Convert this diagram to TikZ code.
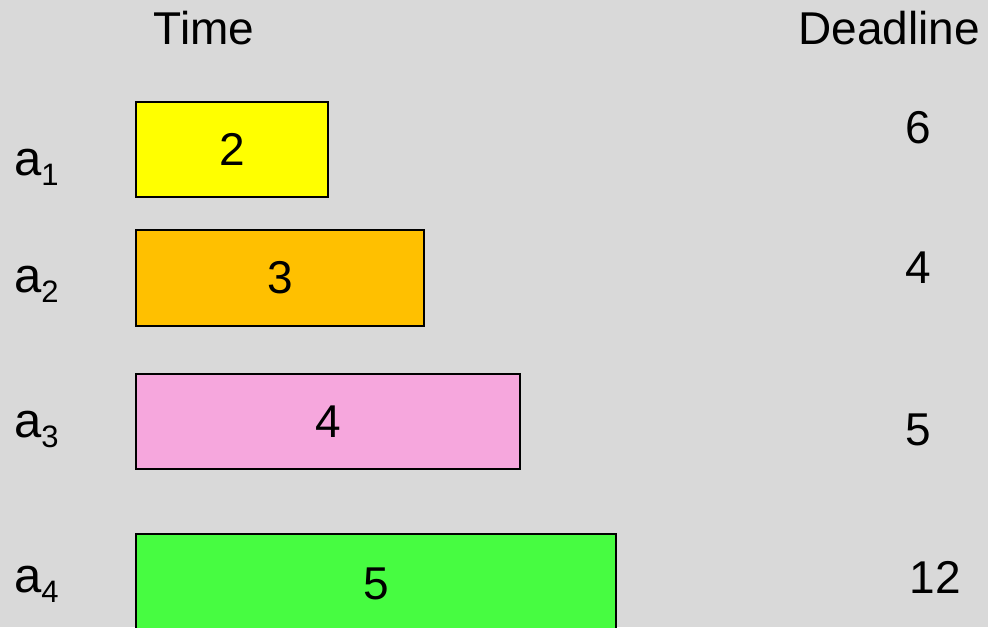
\documentclass[tikz,border=0pt]{standalone}
\usepackage{fontspec}
\setmainfont{Liberation Sans}
\definecolor{bggray}{HTML}{D9D9D9}
\definecolor{yel}{HTML}{FFFF00}
\definecolor{org}{HTML}{FFC000}
\definecolor{pnk}{HTML}{F6A7DD}
\definecolor{grn}{HTML}{47FC41}
\newcommand{\lbl}[1]{a\raisebox{-10pt}{\fontsize{31}{31}\selectfont #1}}
\tikzset{
  txt/.style={inner sep=0pt, font=\fontsize{46}{46}\selectfont},
  albl/.style={inner sep=0pt, anchor=base west, font=\fontsize{49}{49}\selectfont},
  bar/.style={draw=black, line width=1.6pt, inner sep=0pt, anchor=north west, font=\fontsize{46}{46}\selectfont}
}
\begin{document}
\begin{tikzpicture}[x=1pt,y=-1pt]
\fill[bggray] (0,0) rectangle (988,627);
\useasboundingbox (0,0) rectangle (988,627);
\node[txt, anchor=base] (time) at (204,44) {Time};
\node[txt, anchor=base] (deadline) at (889,44) {Deadline};
\begin{scope}
\clip (0,0) rectangle (988,627);
\node[bar, fill=yel, minimum width=192pt, minimum height=95pt] (b1) at (135,101) {2};
\node[bar, fill=org, minimum width=288pt, minimum height=96pt] (b2) at (135,229) {3};
\node[bar, fill=pnk, minimum width=384pt, minimum height=95pt] (b3) at (135,373) {4};
\node[bar, fill=grn, minimum width=480pt, minimum height=100pt] (b4) at (135,533) {5};
\end{scope}
\node[albl] (a1) at (14,175) {\lbl{1}};
\node[albl] (a2) at (14,292) {\lbl{2}};
\node[albl] (a3) at (14,437) {\lbl{3}};
\node[albl] (a4) at (14,592) {\lbl{4}};
\node[txt, anchor=base] (d1) at (918,143) {6};
\node[txt, anchor=base] (d2) at (918,283) {4};
\node[txt, anchor=base] (d3) at (918,445) {5};
\node[txt, anchor=base] (d4) at (935,593) {12};
\end{tikzpicture}
\end{document}
